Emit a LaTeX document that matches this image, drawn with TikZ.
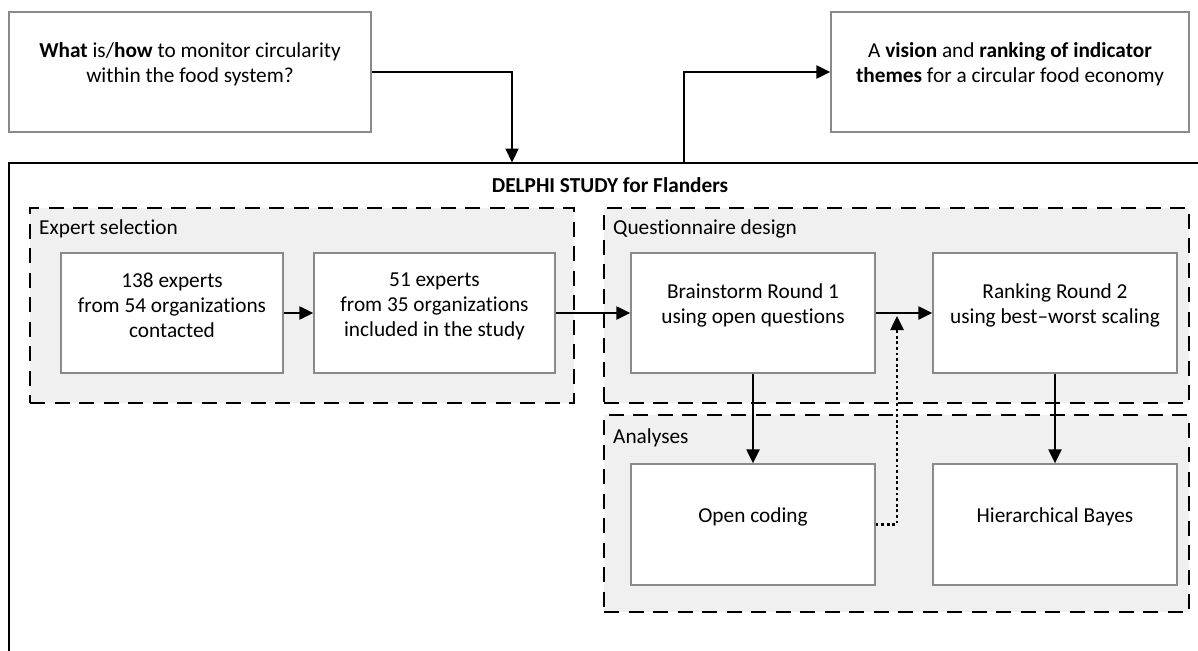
\documentclass[tikz,border=0pt]{standalone}
\usepackage{fontspec}
\setmainfont{Carlito}[Ligatures=NoCommon]
\usetikzlibrary{arrows.meta,fit}

\definecolor{groupfill}{HTML}{F0F0F0}
\definecolor{boxline}{HTML}{8A8A8A}

\tikzset{
  txt/.style={font=\fontsize{21.3}{25}\selectfont},
  box/.style={txt, draw=boxline, line width=1.3pt, fill=white, inner sep=0pt, align=center},
  grp/.style={draw=black, line width=2.6pt, dash pattern=on 15pt off 9.5pt, fill=groupfill, inner sep=0pt},
  grplabel/.style={txt, anchor=west, inner sep=0pt},
  frame/.style={draw=black, line width=2pt, inner sep=0pt},
  flow/.style={draw=black, line width=2.2pt, -{Triangle[length=14pt,width=13pt]}},
  feedback/.style={draw=black, line width=2.6pt, dash pattern=on 2.8pt off 2.8pt, -{Triangle[length=14pt,width=13pt]}},
}

\begin{document}
\begin{tikzpicture}[x=1pt, y=-1pt]
  \useasboundingbox (0,0) rectangle (1198,650);
  \fill[white] (0,0) rectangle (1198,650);
  \clip (0,0) rectangle (1198,650);

  % question and outcome
  \node[box, fit={(9,12) (371,132)}] (A)
    {\textbf{What} is/\textbf{how} to monitor circularity\\within the food system?};
  \node[box, fit={(831,12) (1189,132)}] (B)
    {A \textbf{vision} and \textbf{ranking of indicator}\\\textbf{themes} for a circular food economy};

  % study frame (runs past the right and bottom edges)
  \node[frame, fit={(9,162.5) (1240,700)}] (study) {};
  \node[txt, font=\fontsize{21.3}{25}\selectfont\bfseries] (title) at (610,185) {DELPHI STUDY for Flanders};
  \coordinate (studyIn) at (512,162.5);
  \coordinate (studyOut) at (684,162.5);

  % groups
  \node[grp, fit={(30,208) (574,403)}] (gExp) {};
  \node[grp, fit={(604,208) (1189,403)}] (gQue) {};
  \node[grp, fit={(604,415) (1189,612)}] (gAna) {};
  \node[grplabel] (lExp) at (39,229) {Expert selection};
  \node[grplabel] (lQue) at (613,229) {Questionnaire design};
  \node[grplabel] (lAna) at (613,438) {Analyses};

  % steps
  \node[box, fit={(61,253) (283,373)}] (e1) {138 experts\\from 54 organizations\\contacted};
  \node[box, fit={(314,253) (555,373)}] (e2) {51 experts\\from 35 organizations\\included in the study};
  \node[box, fit={(631,253) (875,373)}] (br) {Brainstorm Round 1\\using open questions};
  \node[box, fit={(933,253) (1177,373)}] (rk) {Ranking Round 2\\using best--worst scaling};
  \node[box, fit={(631,464) (875,585)}] (oc) {Open coding};
  \node[box, fit={(933,464) (1177,585)}] (hb) {Hierarchical Bayes};
  \coordinate (fbTip) at (897,316);

  % connectors
  \draw[flow] (A.east) -| (studyIn);
  \draw[flow] (studyOut) |- (B.west);
  \draw[flow] (e1) -- (e2);
  \draw[flow] (e2) -- (br);
  \draw[flow] (br) -- (rk);
  \draw[flow] (br) -- (oc);
  \draw[flow] (rk) -- (hb);
  \draw[feedback] (oc.east) -| (fbTip);
\end{tikzpicture}
\end{document}
